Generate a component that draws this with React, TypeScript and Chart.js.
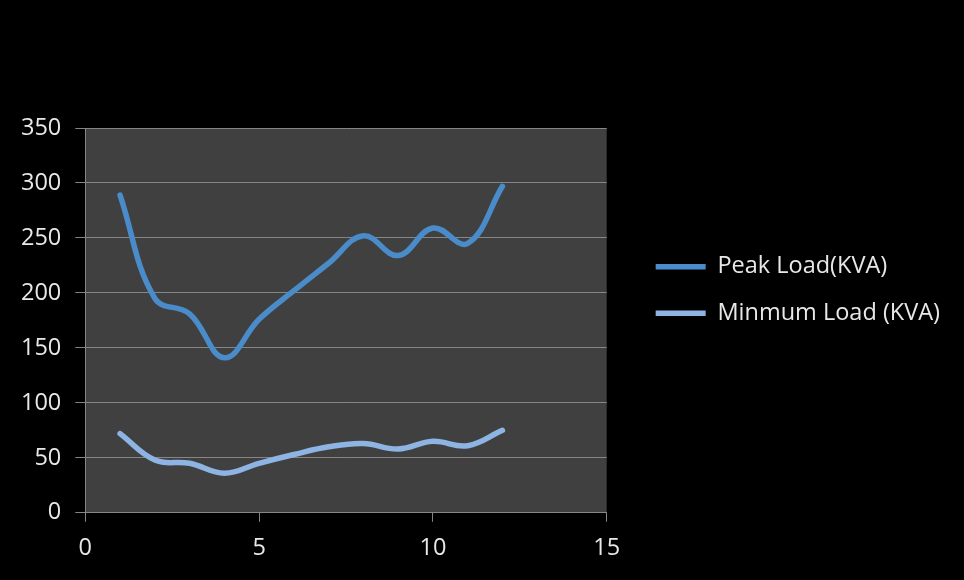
import { useEffect, useRef } from 'react';
import { Chart, registerables } from 'chart.js';

Chart.register(...registerables);

// Sample index (x) and the two load series in KVA
const samples = [1, 2, 3, 4, 5, 6, 7, 8, 9, 10, 11, 12];
const peakLoad = [289, 195, 181, 141, 176, 202, 227, 252, 234, 259, 245, 297];
const minimumLoad = [72, 48, 45, 36, 45, 53, 60, 63, 58, 65, 61, 75];

const seriesNames = ['Peak Load(KVA)', 'Minmum Load (KVA)'];
const seriesColors = ['#4A8BC9', '#8DB4E2'];

// Axis ranges and tick steps
const xRange = [0, 15];
const xStep = 5;
const yRange = [0, 350];
const yStep = 50;

const textColor = '#E8E8E8';
const gridColor = '#868686';
const plotColor = '#404040';
const fontFamily = "'Open Sans', 'Liberation Sans', sans-serif";
const fontSize = 23.5;

const plotBackground = {
  id: 'plotBackground',
  beforeDraw(chart: any) {
    const { ctx, chartArea } = chart;
    ctx.save();
    ctx.fillStyle = '#000000';
    ctx.fillRect(0, 0, chart.width, chart.height);
    ctx.fillStyle = plotColor;
    ctx.fillRect(chartArea.left, chartArea.top, chartArea.right - chartArea.left, chartArea.bottom - chartArea.top);
    ctx.restore();
  },
};

// Moves the legend block beside the middle of the plot
const legendPlacement = {
  id: 'legendPlacement',
  afterLayout(chart: any) {
    const lg = chart.legend;
    if (!lg) return;
    const dx = 26;
    const dy = 104;
    lg.left += dx;
    lg.right += dx;
    lg.top += dy;
    lg.bottom += dy;
  },
};

export default function App() {
  const canvasRef = useRef<HTMLCanvasElement | null>(null);

  useEffect(() => {
    document.body.style.margin = '0';
    document.body.style.background = '#000';
    const canvas = canvasRef.current;
    if (!canvas) return;

    const toPoints = (values: number[]) => samples.map((x, i) => ({ x, y: values[i] }));

    const chart = new Chart(canvas, {
      type: 'line',
      data: {
        datasets: [peakLoad, minimumLoad].map((values, i) => ({
          label: seriesNames[i],
          data: toPoints(values),
          borderColor: seriesColors[i],
          backgroundColor: seriesColors[i],
          borderWidth: 5.5,
          borderCapStyle: 'round',
          borderJoinStyle: 'round',
          pointRadius: 0,
          pointStyle: 'line',
          tension: 0.4,
          fill: false,
        })),
      },
      options: {
        responsive: false,
        animation: false,
        devicePixelRatio: 1,
        layout: { padding: { left: 7, top: 128, right: 40, bottom: 6 } },
        font: { family: fontFamily, size: fontSize },
        plugins: {
          tooltip: { enabled: false },
          legend: {
            position: 'right',
            align: 'start',
            maxWidth: 420,
            labels: {
              color: textColor,
              font: { family: fontFamily, size: fontSize },
              usePointStyle: true,
              pointStyleWidth: 50,
              padding: 23,
            },
          },
        },
        scales: {
          x: {
            type: 'linear',
            min: xRange[0],
            max: xRange[1],
            ticks: { stepSize: xStep, color: textColor, font: { family: fontFamily, size: fontSize }, padding: 12 },
            grid: { drawOnChartArea: false, drawTicks: true, tickLength: 9, color: gridColor },
            border: { color: gridColor },
          },
          y: {
            type: 'linear',
            min: yRange[0],
            max: yRange[1],
            ticks: { stepSize: yStep, color: textColor, font: { family: fontFamily, size: fontSize }, padding: 14 },
            grid: { drawTicks: true, tickLength: 10, color: gridColor },
            border: { color: gridColor },
          },
        },
      } as any,
      plugins: [plotBackground, legendPlacement],
    });

    return () => chart.destroy();
  }, []);

  return (
    <div style={{ width: 964, height: 580, background: '#000' }}>
      <canvas ref={canvasRef} width={964} height={580} style={{ display: 'block' }} />
    </div>
  );
}
